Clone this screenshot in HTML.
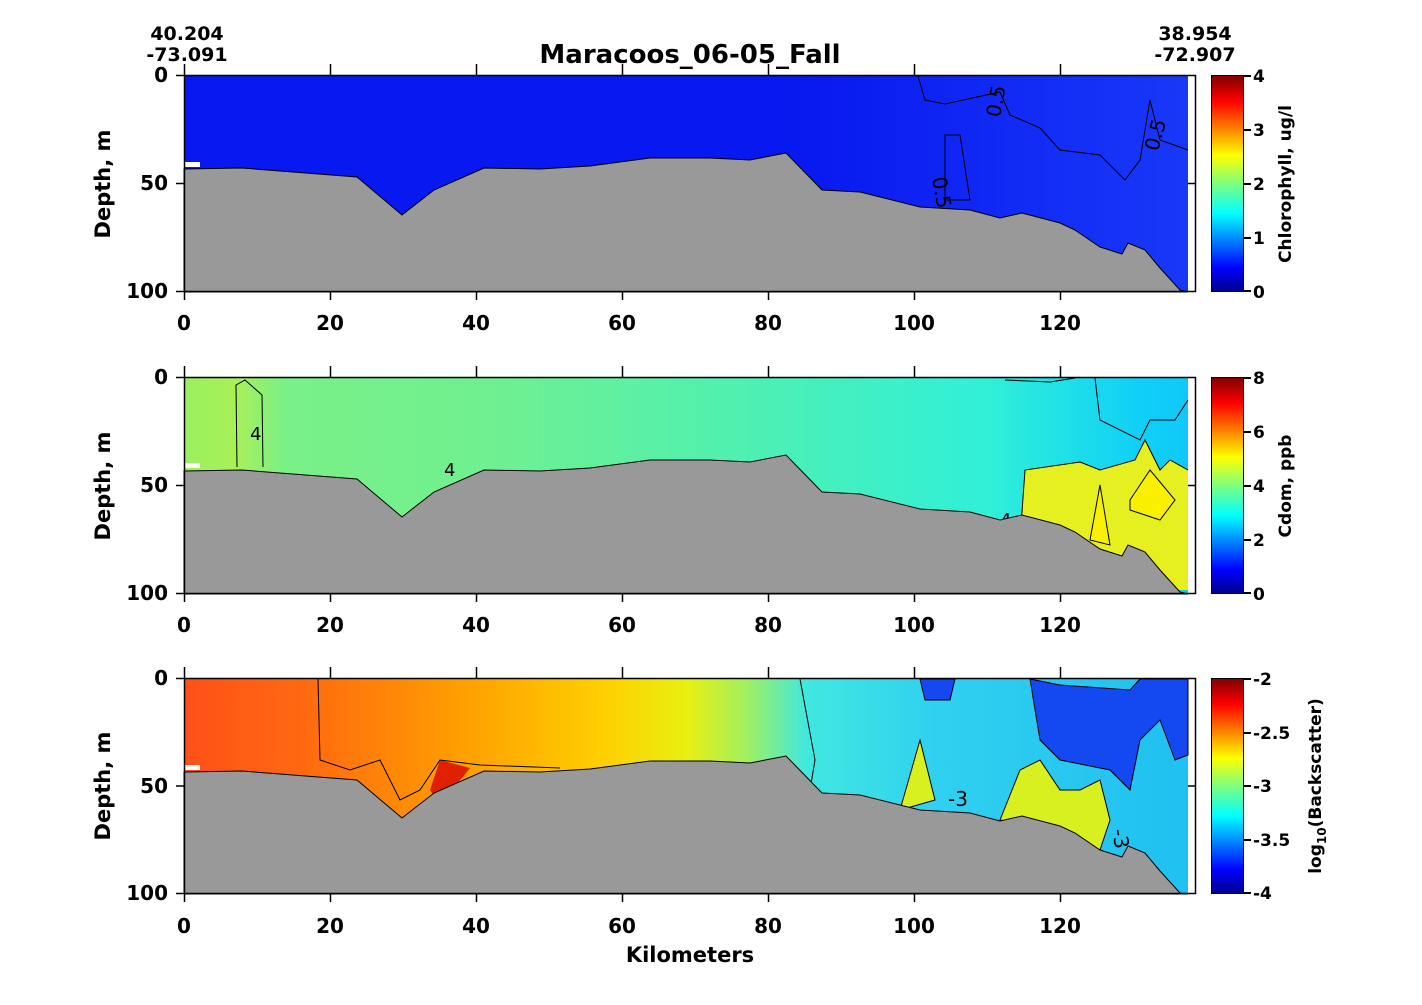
<!DOCTYPE html>
<html><head><meta charset="utf-8"><style>
body{margin:0;background:#fff;}
svg{display:block;font-family:"DejaVu Sans","Liberation Sans",sans-serif;font-weight:bold;}
</style></head><body>
<svg width="1422" height="1005" viewBox="0 0 1422 1005" xmlns="http://www.w3.org/2000/svg">
<defs>
<linearGradient id="jet" x1="0" y1="1" x2="0" y2="0">
<stop offset="0" stop-color="#00008f"/><stop offset="0.11" stop-color="#0000ff"/>
<stop offset="0.36" stop-color="#00ffff"/><stop offset="0.5" stop-color="#7fff7f"/>
<stop offset="0.63" stop-color="#ffff00"/><stop offset="0.88" stop-color="#ff0000"/>
<stop offset="1" stop-color="#800000"/></linearGradient>
<linearGradient id="g1" x1="0" y1="0" x2="1" y2="0">
<stop offset="0" stop-color="#0818f0"/><stop offset="0.6" stop-color="#0818f0"/><stop offset="0.8" stop-color="#1028f4"/><stop offset="1" stop-color="#1838f8"/></linearGradient>
<linearGradient id="g2" x1="0" y1="0" x2="1" y2="0">
<stop offset="0" stop-color="#9af060"/><stop offset="0.05" stop-color="#a8f058"/><stop offset="0.1" stop-color="#7af088"/>
<stop offset="0.3" stop-color="#70f090"/><stop offset="0.55" stop-color="#50f0b0"/>
<stop offset="0.8" stop-color="#30f0d8"/><stop offset="0.95" stop-color="#10d0f8"/><stop offset="1" stop-color="#10c8f8"/></linearGradient>
<linearGradient id="g3" x1="0" y1="0" x2="1" y2="0">
<stop offset="0" stop-color="#ff5018"/><stop offset="0.12" stop-color="#ff6a10"/><stop offset="0.28" stop-color="#ffa000"/>
<stop offset="0.42" stop-color="#ffd000"/><stop offset="0.5" stop-color="#e8f010"/><stop offset="0.56" stop-color="#a0f060"/>
<stop offset="0.62" stop-color="#40e8e0"/><stop offset="0.75" stop-color="#30d0f0"/><stop offset="1" stop-color="#20c0f0"/></linearGradient>
</defs>

<text x="690" y="63" font-size="26" text-anchor="middle">Maracoos_06-05_Fall</text>
<text x="187" y="40" font-size="19" text-anchor="middle">40.204</text>
<text x="187" y="61" font-size="19" text-anchor="middle">-73.091</text>
<text x="1195" y="40" font-size="19" text-anchor="middle">38.954</text>
<text x="1195" y="61" font-size="19" text-anchor="middle">-72.907</text>

<!-- Panel 1 -->
<g>
<rect x="185" y="76" width="1003" height="216" fill="url(#g1)"/>
<path d="M185 162h15v5h-15z" fill="#fff"/>
<path d="M918 76 L925 100 L945 104 L1000 92 L1010 115 L1040 128 L1060 150 L1100 155 L1125 180 L1140 160 L1150 100 L1160 140 L1188 150" fill="none" stroke="#000" stroke-width="1"/>
<path d="M945 135 L960 135 L970 200 L945 200 Z" fill="none" stroke="#000" stroke-width="1"/>
<text x="1000" y="118" font-size="20" font-weight="normal" transform="rotate(-80 1000 118)">0.5</text>
<text x="1158" y="152" font-size="20" font-weight="normal" transform="rotate(-75 1158 152)">0.5</text>
<text x="932" y="178" font-size="20" font-weight="normal" transform="rotate(80 932 178)">0.5</text>
<polygon points="184,169 242,168 357,177 402,215 434,190 484,168 540,169 590,166 650,158 710,158 750,160 786,153 822,190 860,192 920,207 970,210 1000,218 1022,213 1060,223 1075,230 1100,247 1122,254 1128,243 1145,250 1160,268 1180,290 1188,292 184,292" fill="#999" stroke="#000" stroke-width="1"/>
</g>

<!-- Panel 2 -->
<g>
<rect x="185" y="378" width="1003" height="215" fill="url(#g2)"/>
<path d="M1020 540 L1025 470 L1080 462 L1100 470 L1135 460 L1145 440 L1160 470 L1170 460 L1188 470 L1188 590 L1020 590 Z" fill="#e6f020"/>
<path d="M1090 540 L1100 485 L1110 545 Z M1130 500 L1150 470 L1175 500 L1160 520 L1130 510 Z" fill="#f8f000" stroke="#000" stroke-width="1"/>
<path d="M1020 540 L1025 470 L1080 462 L1100 470 L1135 460 L1145 440 L1160 470 L1170 460 L1188 470" fill="none" stroke="#000" stroke-width="1"/>
<path d="M237 467 L236 385 L245 380 L262 395 L263 467" fill="none" stroke="#000" stroke-width="1"/>
<path d="M1005 380 L1050 382 L1075 378 M1095 378 L1100 420 L1140 440 L1150 420 L1175 420 L1188 400" fill="none" stroke="#000" stroke-width="1"/>
<text x="444" y="476" font-size="18" font-weight="normal">4</text>
<text x="250" y="440" font-size="18" font-weight="normal">4</text>
<text x="1000" y="526" font-size="18" font-weight="normal">4</text>
<polygon points="184,471 242,470 357,479 402,517 434,492 484,470 540,471 590,468 650,460 710,460 750,462 786,455 822,492 860,494 920,509 970,512 1000,520 1022,515 1060,525 1075,532 1100,549 1122,556 1128,545 1145,552 1160,570 1180,592 1188,594 184,594" fill="#999" stroke="#000" stroke-width="1"/>
<path d="M185 463h15v5h-15z" fill="#fff"/>
</g>

<!-- Panel 3 -->
<g>
<rect x="185" y="679" width="1003" height="214" fill="url(#g3)"/>
<path d="M920 679 L925 700 L950 700 L955 679 Z M1030 679 L1040 740 L1060 760 L1110 770 L1130 790 L1140 740 L1160 720 L1175 760 L1188 755 L1188 679 L1140 679 L1130 690 L1060 685 Z" fill="#1448f0" stroke="#000" stroke-width="1"/>
<path d="M900 810 L920 740 L935 800 Z M1000 820 L1020 770 L1040 760 L1060 790 L1080 790 L1100 780 L1110 820 L1100 850 L1060 830 Z" fill="#d8f020" stroke="#000" stroke-width="1"/>
<path d="M430 790 L440 760 L470 768 L440 805 Z" fill="#e02000"/>
<path d="M800 679 L815 760 L810 790" fill="none" stroke="#000" stroke-width="1"/>
<path d="M318 679 L320 760 L350 770 L380 760 L400 800 L420 790 L440 760 L480 765 L560 768" fill="none" stroke="#000" stroke-width="1"/>
<text x="948" y="806" font-size="20" font-weight="normal">-3</text>
<text x="1112" y="830" font-size="20" font-weight="normal" transform="rotate(80 1112 830)">-3</text>
<polygon points="184,772 242,771 357,780 402,818 434,793 484,771 540,772 590,769 650,761 710,761 750,763 786,756 822,793 860,795 920,810 970,813 1000,821 1022,816 1060,826 1075,833 1100,850 1122,857 1128,846 1145,853 1160,871 1180,893 1188,894 184,894" fill="#999" stroke="#000" stroke-width="1"/>
<path d="M185 765h15v5h-15z" fill="#fff"/>
</g>

<!-- Axes frames and ticks -->
<g stroke="#000" stroke-width="1.5" fill="none">
<rect x="184.5" y="75.5" width="1011" height="216"/>
<rect x="184.5" y="377.5" width="1011" height="216"/>
<rect x="184.5" y="678.5" width="1011" height="215"/>
<path d="M176 75.5h8M176 183.5h8M176 291.5h8M1195 183.5h-7M176 377.5h8M176 485.5h8M176 593.5h8M1195 485.5h-7M176 678.5h8M176 786h8M176 893.5h8M1195 786h-7"/>
<path d="M184.5 64v11M330.5 64v11M476.5 64v11M622.5 64v11M768.5 64v11M914.5 64v11M1060.5 64v11"/>
<path d="M184.5 292v8M330.5 292v8M476.5 292v8M622.5 292v8M768.5 292v8M914.5 292v8M1060.5 292v8"/>
<path d="M184.5 366v11M330.5 366v11M476.5 366v11M622.5 366v11M768.5 366v11M914.5 366v11M1060.5 366v11"/>
<path d="M184.5 594v8M330.5 594v8M476.5 594v8M622.5 594v8M768.5 594v8M914.5 594v8M1060.5 594v8"/>
<path d="M184.5 667v11M330.5 667v11M476.5 667v11M622.5 667v11M768.5 667v11M914.5 667v11M1060.5 667v11"/>
<path d="M184.5 894v8M330.5 894v8M476.5 894v8M622.5 894v8M768.5 894v8M914.5 894v8M1060.5 894v8"/>
</g>
<g font-size="20">
<g text-anchor="end">
<text x="168" y="82">0</text><text x="168" y="190">50</text><text x="168" y="298">100</text>
<text x="168" y="384">0</text><text x="168" y="492">50</text><text x="168" y="600">100</text>
<text x="168" y="685">0</text><text x="168" y="793">50</text><text x="168" y="900">100</text>
</g>
<g text-anchor="middle">
<text x="184" y="330">0</text><text x="330" y="330">20</text><text x="476" y="330">40</text><text x="622" y="330">60</text><text x="768" y="330">80</text><text x="914" y="330">100</text><text x="1060" y="330">120</text>
<text x="184" y="632">0</text><text x="330" y="632">20</text><text x="476" y="632">40</text><text x="622" y="632">60</text><text x="768" y="632">80</text><text x="914" y="632">100</text><text x="1060" y="632">120</text>
<text x="184" y="933">0</text><text x="330" y="933">20</text><text x="476" y="933">40</text><text x="622" y="933">60</text><text x="768" y="933">80</text><text x="914" y="933">100</text><text x="1060" y="933">120</text>
</g>
</g>
<text x="690" y="962" font-size="21" text-anchor="middle">Kilometers</text>
<g font-size="21" text-anchor="middle">
<text transform="translate(110 184) rotate(-90)">Depth, m</text>
<text transform="translate(110 486) rotate(-90)">Depth, m</text>
<text transform="translate(110 786) rotate(-90)">Depth, m</text>
</g>

<!-- Colorbars -->
<g stroke="#000" stroke-width="1">
<rect x="1211.5" y="75.5" width="32" height="216" fill="url(#jet)"/>
<rect x="1211.5" y="377.5" width="32" height="216" fill="url(#jet)"/>
<rect x="1211.5" y="678.5" width="32" height="215" fill="url(#jet)"/>
</g>
<g stroke="#000" stroke-width="2">
<path d="M1244 76h7M1244 130h7M1244 184h7M1244 238h7M1244 291h7"/>
<path d="M1244 378h7M1244 432h7M1244 486h7M1244 540h7M1244 593h7"/>
<path d="M1244 679h7M1244 733h7M1244 786h7M1244 840h7M1244 893h7"/>
</g>
<g font-size="17">
<text x="1253" y="82">4</text><text x="1253" y="136">3</text><text x="1253" y="190">2</text><text x="1253" y="244">1</text><text x="1253" y="298">0</text>
<text x="1253" y="384">8</text><text x="1253" y="438">6</text><text x="1253" y="492">4</text><text x="1253" y="546">2</text><text x="1253" y="600">0</text>
<text x="1253" y="685">-2</text><text x="1253" y="739">-2.5</text><text x="1253" y="792">-3</text><text x="1253" y="846">-3.5</text><text x="1253" y="899">-4</text>
</g>
<g font-size="17" text-anchor="middle">
<text transform="translate(1291 184) rotate(-90)">Chlorophyll, ug/l</text>
<text transform="translate(1291 486) rotate(-90)">Cdom, ppb</text>
<text transform="translate(1321 786) rotate(-90)">log<tspan font-size="12" dy="5">10</tspan><tspan dy="-5">(Backscatter)</tspan></text>
</g>
</svg>
</body></html>
